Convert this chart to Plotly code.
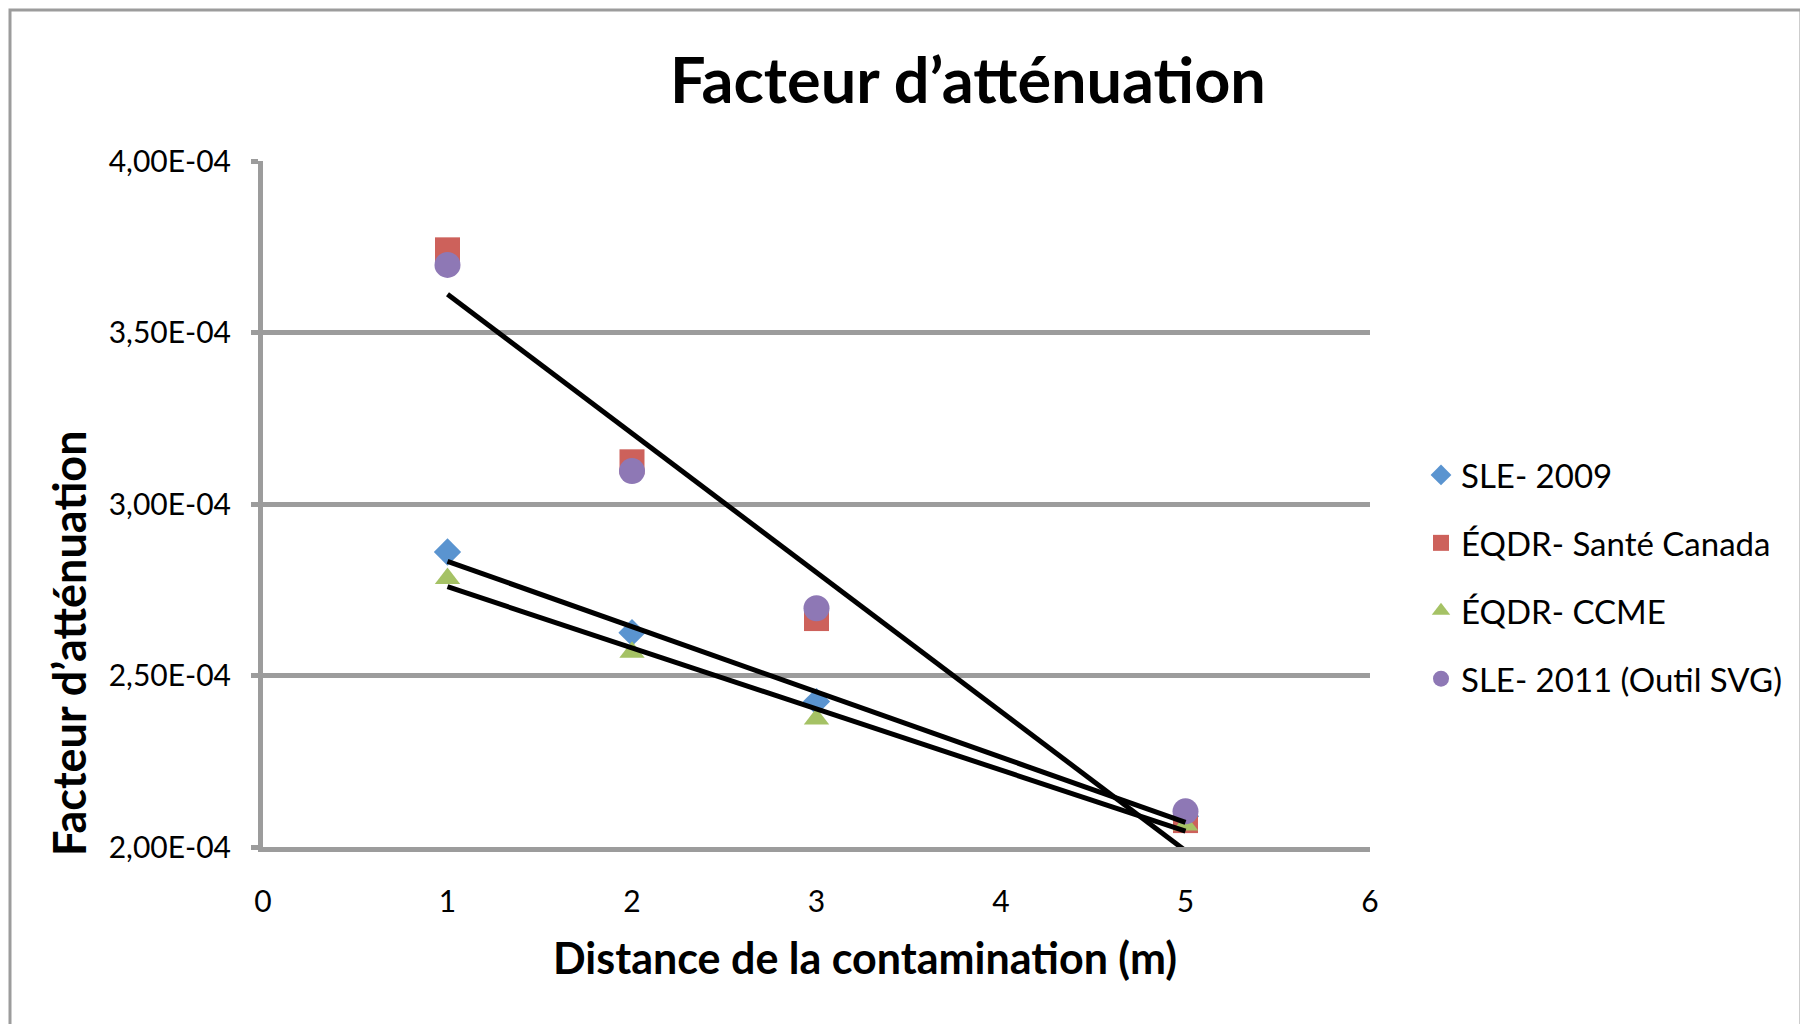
import numpy as np
import plotly.graph_objects as go

# ---- data ----
distance = [1, 2, 3, 5]
sle_2009 = [2.86e-4, 2.625e-4, 2.424e-4, 2.09e-4]
eqdr_sante = [3.741e-4, 3.123e-4, 2.666e-4, 2.077e-4]
eqdr_ccme = [2.783e-4, 2.568e-4, 2.373e-4, 2.064e-4]
sle_2011 = [3.697e-4, 3.096e-4, 2.696e-4, 2.104e-4]

series_names = ["SLE- 2009", "ÉQDR- Santé Canada", "ÉQDR- CCME", "SLE- 2011 (Outil SVG)"]
trend_series = [eqdr_sante, sle_2009, eqdr_ccme]

y_tickvals = [2.0e-4, 2.5e-4, 3.0e-4, 3.5e-4, 4.0e-4]
y_ticktext = ["2,00E-04", "2,50E-04", "3,00E-04", "3,50E-04", "4,00E-04"]
x_tickvals = [0, 1, 2, 3, 4, 5, 6]

title_text = "Facteur d’atténuation"
x_title = "Distance de la contamination (m)"
y_title = "Facteur d’atténuation"

# ---- styles ----
FONT = "Lato, 'Open Sans', sans-serif"
GRAY = "#9C9C9C"
colors = ["#5A94D0", "#CD615B", "#A5C265", "#8E78B5"]
symbols = ["diamond", "square", "triangle-up", "circle"]
sizes = [21, 25, 22, 26]

fig = go.Figure()

for i, (name, ys) in enumerate(zip(series_names, [sle_2009, eqdr_sante, eqdr_ccme, sle_2011])):
    fig.add_trace(go.Scatter(
        x=distance, y=ys, mode="markers", name=name,
        legendgroup=f"g{i}",
        marker=dict(symbol=symbols[i], size=sizes[i], color=colors[i], line=dict(width=0)),
    ))

# linear trend lines (least squares fit from the data)
for ys in trend_series:
    slope, intercept = np.polyfit(distance, ys, 1)
    xs = [min(distance), max(distance)]
    fig.add_trace(go.Scatter(
        x=xs, y=[slope * v + intercept for v in xs], mode="lines",
        line=dict(color="black", width=5), showlegend=False, hoverinfo="skip",
    ))

OFF = 8  # page body margin
W, H = 1800, 1016
# target page coordinates of the plot area
PL, PR, PT, PB = 263, 1370, 161, 847
L, T = PL - OFF, PT - OFF
R = W - (PR - OFF)
B = H - (PB - OFF)
pw, ph = W - L - R, H - T - B

def px(x):
    return (x - OFF - L) / pw

def py(y):
    return (H - B - (y - OFF)) / ph

fig.update_layout(
    width=W, height=H,
    margin=dict(l=L, r=R, t=T, b=B),
    paper_bgcolor="white", plot_bgcolor="white",
    font=dict(family=FONT, size=30, color="black"),
    title=dict(text=f"<b>{title_text}</b>", font=dict(size=63, family=FONT),
               x=px(968), xref="paper", xanchor="center",
               y=1 - (81 - OFF) / H, yref="container", yanchor="middle"),
    showlegend=True,
    legend=dict(x=px(1421), y=py(577), xanchor="left", yanchor="middle",
                font=dict(size=33, family=FONT), tracegroupgap=22,
                bgcolor="rgba(0,0,0,0)", itemsizing="trace"),
    xaxis=dict(range=[0, 6], tickvals=x_tickvals, showgrid=False, zeroline=False,
               showline=True, linecolor=GRAY, linewidth=5, ticks="",
               ticklabelstandoff=24),
    yaxis=dict(range=[2.0e-4, 4.0e-4], tickvals=y_tickvals, ticktext=y_ticktext,
               showgrid=True, gridcolor=GRAY, gridwidth=5, zeroline=False,
               showline=True, linecolor=GRAY, linewidth=5,
               ticks="outside", ticklen=7, tickwidth=5, tickcolor=GRAY,
               ticklabelstandoff=14),
    annotations=[
        dict(text=f"<b>{x_title}</b>", x=px(865), y=py(957), xref="paper", yref="paper",
             showarrow=False, font=dict(size=43, family=FONT), xanchor="center", yanchor="middle"),
        dict(text=f"<b>{y_title}</b>", x=px(69), y=py(643), xref="paper", yref="paper",
             showarrow=False, textangle=-90, font=dict(size=45, family=FONT),
             xanchor="center", yanchor="middle"),
    ],
    shapes=[dict(type="rect", xref="paper", yref="paper",
                 x0=px(10), x1=px(1801), y0=py(1040), y1=py(10),
                 line=dict(color=GRAY, width=3), fillcolor="rgba(0,0,0,0)", layer="below")],
)

fig.write_html("out.html")
